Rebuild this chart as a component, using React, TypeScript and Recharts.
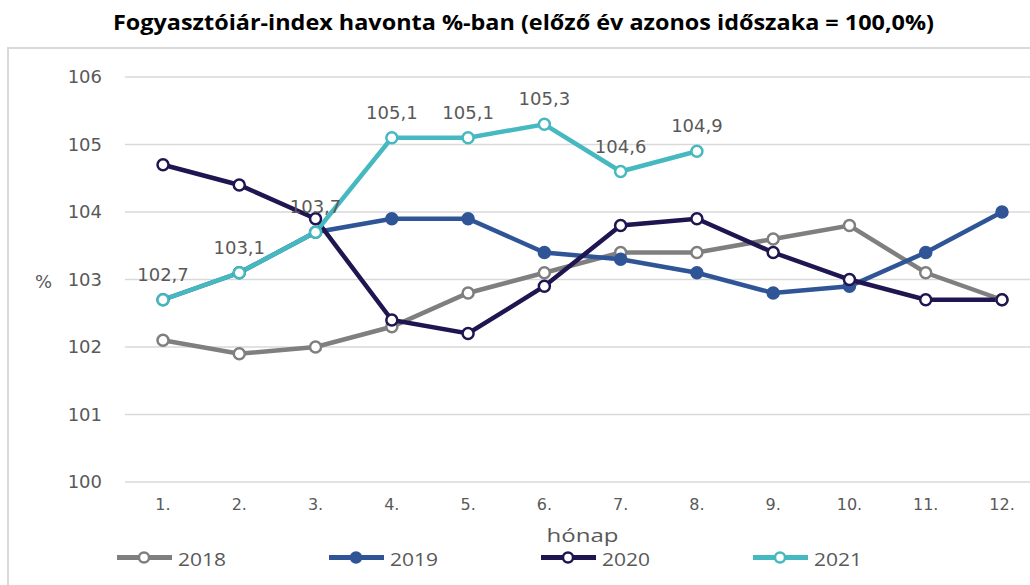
import { LineChart, Line, XAxis, YAxis, CartesianGrid, LabelList } from "recharts";

// Hungarian CPI, same period of previous year = 100,0
const months = ["1.", "2.", "3.", "4.", "5.", "6.", "7.", "8.", "9.", "10.", "11.", "12."];
const cpi2018 = [102.1, 101.9, 102.0, 102.3, 102.8, 103.1, 103.4, 103.4, 103.6, 103.8, 103.1, 102.7];
const cpi2019 = [102.7, 103.1, 103.7, 103.9, 103.9, 103.4, 103.3, 103.1, 102.8, 102.9, 103.4, 104.0];
const cpi2020 = [104.7, 104.4, 103.9, 102.4, 102.2, 102.9, 103.8, 103.9, 103.4, 103.0, 102.7, 102.7];
const cpi2021 = [102.7, 103.1, 103.7, 105.1, 105.1, 105.3, 104.6, 104.9];
const yTicks = [100, 101, 102, 103, 104, 105, 106];

const series = [
  { key: "y2018", name: "2018", color: "#7f7f7f", filled: false },
  { key: "y2019", name: "2019", color: "#2f5597", filled: true },
  { key: "y2020", name: "2020", color: "#1f1550", filled: false },
  { key: "y2021", name: "2021", color: "#45b9bf", filled: false },
];

const data = months.map((month, i) => ({
  month,
  y2018: cpi2018[i],
  y2019: cpi2019[i],
  y2020: cpi2020[i],
  y2021: i < cpi2021.length ? cpi2021[i] : null,
}));

const TEXT = "#595959";
const TICK_FONT = "DejaVu Sans";

const fmt = (v: number) => v.toFixed(1).replace(".", ",");

function ValueLabel(props: any) {
  const { x, y, value } = props;
  if (value == null) return null;
  return (
    <text x={x} y={y - 19} textAnchor="middle" fill={TEXT} fontSize={18} fontFamily={TICK_FONT}>
      {fmt(value)}
    </text>
  );
}

function MonthTitle(props: any) {
  const vb = props.viewBox;
  return (
    <text
      x={vb.x + vb.width / 2}
      y={542}
      textAnchor="middle"
      fill={TEXT}
      fontSize={19}
      fontFamily="Open Sans"
      textLength={72}
      lengthAdjust="spacingAndGlyphs"
    >
      hónap
    </text>
  );
}

function PercentTitle(props: any) {
  const vb = props.viewBox;
  return (
    <text x={35} y={vb.y + vb.height / 2 + 8} fill={TEXT} fontSize={18} fontFamily={TICK_FONT}>
      %
    </text>
  );
}

export default function App() {
  return (
    <div
      style={{
        position: "absolute",
        left: 0,
        top: 0,
        width: 1030,
        height: 585,
        overflow: "hidden",
        background: "#fff",
      }}
    >
      {/* chart frame, cut off on the right and bottom like the source */}
      <div
        style={{
          position: "absolute",
          left: 7,
          top: 47,
          width: 1100,
          height: 600,
          border: "2px solid #d9d9d9",
        }}
      />
      <div style={{ position: "absolute", left: 0, top: 0 }}>
        <LineChart width={1060} height={585} data={data} margin={{ top: 77, right: 20, bottom: 43, left: 0 }}>
          <CartesianGrid vertical={false} stroke="#d9d9d9" strokeWidth={1.5} />
          <XAxis
            dataKey="month"
            height={60}
            padding={{ left: 38, right: 38 }}
            tickLine={false}
            axisLine={false}
            tickSize={0}
            tickMargin={17}
            tick={{ fill: TEXT, fontSize: 16, fontFamily: TICK_FONT }}
            label={{ content: MonthTitle }}
          />
          <YAxis
            width={125}
            domain={[100, 106]}
            ticks={yTicks}
            tickLine={false}
            axisLine={false}
            tickSize={0}
            tickMargin={23}
            tick={{ fill: TEXT, fontSize: 18, fontFamily: TICK_FONT }}
            label={{ content: PercentTitle }}
          />
          {series.map((s) => (
            <Line
              key={s.key}
              type="linear"
              dataKey={s.key}
              name={s.name}
              stroke={s.color}
              strokeWidth={4.5}
              dot={{ r: 5.5, fill: s.filled ? s.color : "#fff", stroke: s.color, strokeWidth: 2.5 }}
              activeDot={false}
              isAnimationActive={false}
            >
              {s.key === "y2021" && <LabelList dataKey="y2021" content={ValueLabel} />}
            </Line>
          ))}
        </LineChart>
      </div>
      <svg width={1030} height={585} style={{ position: "absolute", left: 0, top: 0, pointerEvents: "none" }}>
        <text
          x={523.5}
          y={29.5}
          textAnchor="middle"
          fill="#000"
          fontSize={20.5}
          fontWeight={700}
          fontFamily="Open Sans"
          textLength={821}
          lengthAdjust="spacingAndGlyphs"
        >
          Fogyasztóiár-index havonta %-ban (előző év azonos időszaka = 100,0%)
        </text>
        {series.map((s, i) => {
          const x0 = 117 + i * 212;
          return (
            <g key={s.key}>
              <line x1={x0} x2={x0 + 55} y1={557.5} y2={557.5} stroke={s.color} strokeWidth={5} />
              <circle cx={x0 + 27} cy={557.5} r={5} fill={s.filled ? s.color : "#fff"} stroke={s.color} strokeWidth={2.5} />
              <text
                x={x0 + 61}
                y={566}
                fill={TEXT}
                fontSize={19}
                fontFamily="Open Sans"
                textLength={48}
                lengthAdjust="spacingAndGlyphs"
              >
                {s.name}
              </text>
            </g>
          );
        })}
      </svg>
    </div>
  );
}
